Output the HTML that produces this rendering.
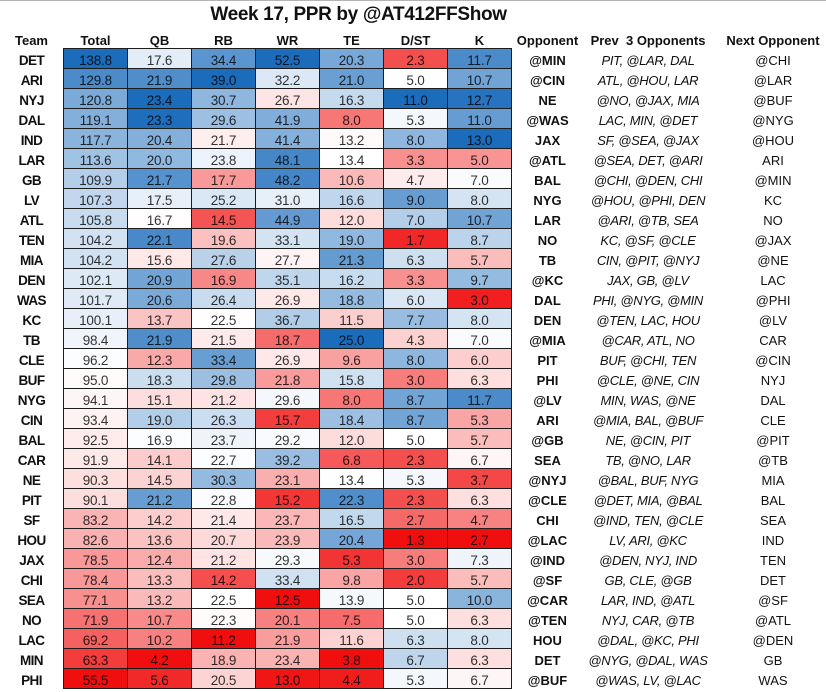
<!DOCTYPE html>
<html>
<head>
<meta charset="utf-8">
<style>
html,body{margin:0;padding:0}
body{width:826px;height:689px;background:#fff;position:relative;overflow:hidden;font-family:"Liberation Sans",Arial,sans-serif;color:#111}
.topline{position:absolute;left:0;top:0;width:826px;height:1px;background:#b4b4b4}
.title{position:absolute;top:3px;left:0;width:717px;text-align:center;font-weight:bold;font-size:19px;line-height:24px;letter-spacing:-0.35px;color:#111;white-space:nowrap}
.tline{position:absolute;left:63px;top:48px;width:449px;height:1px;background:#1c1c1c}
.row{position:absolute;left:0;height:20px;width:940px;display:flex}
.row>div{flex:none;height:20px;box-sizing:border-box;text-align:center;line-height:23px;white-space:nowrap;overflow:visible}
.tm{width:63px;font-weight:bold;font-size:13.5px;letter-spacing:-0.6px;color:#111}
.c{width:64px;border-right:1px solid #1c1c1c;border-bottom:1px solid #1c1c1c;font-size:13.5px;letter-spacing:-0.2px;color:rgba(0,0,0,.8);
background:color-mix(in srgb, rgb(28,108,188) calc(clamp(0, (var(--v) - var(--md)) / (var(--mx) - var(--md)), 1) * 100%), color-mix(in srgb, rgb(240,14,14) calc(clamp(0, (var(--md) - var(--v)) / (var(--md) - var(--mn)), 1) * 100%), #ffffff));}
.f{width:65px;border-left:1px solid #1c1c1c}
.op{width:71px;font-weight:bold;font-size:13px;color:#111}
.pv{width:130px;font-style:italic;font-size:13px;letter-spacing:-0.3px;color:#111}
.nx{width:120px;font-size:13px;color:#111}
.hdr .c{background:none;border-color:transparent;font-weight:bold;font-size:13px;color:#111;letter-spacing:0}
.hdr .tm{font-size:13px;letter-spacing:0}
.hdr .pv{font-style:normal;font-weight:bold;letter-spacing:0}
.hdr .nx{font-weight:bold}
.t{--mn:55.5;--md:95.6;--mx:138.8}
.q{--mn:4.2;--md:16.8;--mx:23.4}
.r{--mn:11.2;--md:22.5;--mx:39}
.w{--mn:12.5;--md:28.45;--mx:52.5}
.e{--mn:3.8;--md:13.4;--mx:25}
.d{--mn:1.3;--md:5;--mx:11}
.k{--mn:2.7;--md:6.85;--mx:13}
</style>
</head>
<body>
<div class="topline"></div>
<div class="title">Week 17, PPR by @AT412FFShow</div>

<div class="row hdr" style="top:29px"><div class="tm">Team</div><div class="c f">Total</div><div class="c">QB</div><div class="c">RB</div><div class="c">WR</div><div class="c">TE</div><div class="c">D/ST</div><div class="c">K</div><div class="op">Opponent</div><div class="pv">Prev&nbsp;&nbsp;3 Opponents</div><div class="nx">Next Opponent</div></div>

<div class="tline"></div>

<div class="row" style="top:49px"><div class="tm">DET</div><div class="c t f" style="--v:138.8">138.8</div><div class="c q" style="--v:17.6">17.6</div><div class="c r" style="--v:34.4">34.4</div><div class="c w" style="--v:52.5">52.5</div><div class="c e" style="--v:20.3">20.3</div><div class="c d" style="--v:2.3">2.3</div><div class="c k" style="--v:11.7">11.7</div><div class="op">@MIN</div><div class="pv">PIT, @LAR, DAL</div><div class="nx">@CHI</div></div>

<div class="row" style="top:69px"><div class="tm">ARI</div><div class="c t f" style="--v:129.8">129.8</div><div class="c q" style="--v:21.9">21.9</div><div class="c r" style="--v:39.0">39.0</div><div class="c w" style="--v:32.2">32.2</div><div class="c e" style="--v:21.0">21.0</div><div class="c d" style="--v:5.0">5.0</div><div class="c k" style="--v:10.7">10.7</div><div class="op">@CIN</div><div class="pv">ATL, @HOU, LAR</div><div class="nx">@LAR</div></div>

<div class="row" style="top:89px"><div class="tm">NYJ</div><div class="c t f" style="--v:120.8">120.8</div><div class="c q" style="--v:23.4">23.4</div><div class="c r" style="--v:30.7">30.7</div><div class="c w" style="--v:26.7">26.7</div><div class="c e" style="--v:16.3">16.3</div><div class="c d" style="--v:11.0">11.0</div><div class="c k" style="--v:12.7">12.7</div><div class="op">NE</div><div class="pv">@NO, @JAX, MIA</div><div class="nx">@BUF</div></div>

<div class="row" style="top:109px"><div class="tm">DAL</div><div class="c t f" style="--v:119.1">119.1</div><div class="c q" style="--v:23.3">23.3</div><div class="c r" style="--v:29.6">29.6</div><div class="c w" style="--v:41.9">41.9</div><div class="c e" style="--v:8.0">8.0</div><div class="c d" style="--v:5.3">5.3</div><div class="c k" style="--v:11.0">11.0</div><div class="op">@WAS</div><div class="pv">LAC, MIN, @DET</div><div class="nx">@NYG</div></div>

<div class="row" style="top:129px"><div class="tm">IND</div><div class="c t f" style="--v:117.7">117.7</div><div class="c q" style="--v:20.4">20.4</div><div class="c r" style="--v:21.7">21.7</div><div class="c w" style="--v:41.4">41.4</div><div class="c e" style="--v:13.2">13.2</div><div class="c d" style="--v:8.0">8.0</div><div class="c k" style="--v:13.0">13.0</div><div class="op">JAX</div><div class="pv">SF, @SEA, @JAX</div><div class="nx">@HOU</div></div>

<div class="row" style="top:149px"><div class="tm">LAR</div><div class="c t f" style="--v:113.6">113.6</div><div class="c q" style="--v:20.0">20.0</div><div class="c r" style="--v:23.8">23.8</div><div class="c w" style="--v:48.1">48.1</div><div class="c e" style="--v:13.4">13.4</div><div class="c d" style="--v:3.3">3.3</div><div class="c k" style="--v:5.0">5.0</div><div class="op">@ATL</div><div class="pv">@SEA, DET, @ARI</div><div class="nx">ARI</div></div>

<div class="row" style="top:169px"><div class="tm">GB</div><div class="c t f" style="--v:109.9">109.9</div><div class="c q" style="--v:21.7">21.7</div><div class="c r" style="--v:17.7">17.7</div><div class="c w" style="--v:48.2">48.2</div><div class="c e" style="--v:10.6">10.6</div><div class="c d" style="--v:4.7">4.7</div><div class="c k" style="--v:7.0">7.0</div><div class="op">BAL</div><div class="pv">@CHI, @DEN, CHI</div><div class="nx">@MIN</div></div>

<div class="row" style="top:189px"><div class="tm">LV</div><div class="c t f" style="--v:107.3">107.3</div><div class="c q" style="--v:17.5">17.5</div><div class="c r" style="--v:25.2">25.2</div><div class="c w" style="--v:31.0">31.0</div><div class="c e" style="--v:16.6">16.6</div><div class="c d" style="--v:9.0">9.0</div><div class="c k" style="--v:8.0">8.0</div><div class="op">NYG</div><div class="pv">@HOU, @PHI, DEN</div><div class="nx">KC</div></div>

<div class="row" style="top:209px"><div class="tm">ATL</div><div class="c t f" style="--v:105.8">105.8</div><div class="c q" style="--v:16.7">16.7</div><div class="c r" style="--v:14.5">14.5</div><div class="c w" style="--v:44.9">44.9</div><div class="c e" style="--v:12.0">12.0</div><div class="c d" style="--v:7.0">7.0</div><div class="c k" style="--v:10.7">10.7</div><div class="op">LAR</div><div class="pv">@ARI, @TB, SEA</div><div class="nx">NO</div></div>

<div class="row" style="top:229px"><div class="tm">TEN</div><div class="c t f" style="--v:104.2">104.2</div><div class="c q" style="--v:22.1">22.1</div><div class="c r" style="--v:19.6">19.6</div><div class="c w" style="--v:33.1">33.1</div><div class="c e" style="--v:19.0">19.0</div><div class="c d" style="--v:1.7">1.7</div><div class="c k" style="--v:8.7">8.7</div><div class="op">NO</div><div class="pv">KC, @SF, @CLE</div><div class="nx">@JAX</div></div>

<div class="row" style="top:249px"><div class="tm">MIA</div><div class="c t f" style="--v:104.2">104.2</div><div class="c q" style="--v:15.6">15.6</div><div class="c r" style="--v:27.6">27.6</div><div class="c w" style="--v:27.7">27.7</div><div class="c e" style="--v:21.3">21.3</div><div class="c d" style="--v:6.3">6.3</div><div class="c k" style="--v:5.7">5.7</div><div class="op">TB</div><div class="pv">CIN, @PIT, @NYJ</div><div class="nx">@NE</div></div>

<div class="row" style="top:269px"><div class="tm">DEN</div><div class="c t f" style="--v:102.1">102.1</div><div class="c q" style="--v:20.9">20.9</div><div class="c r" style="--v:16.9">16.9</div><div class="c w" style="--v:35.1">35.1</div><div class="c e" style="--v:16.2">16.2</div><div class="c d" style="--v:3.3">3.3</div><div class="c k" style="--v:9.7">9.7</div><div class="op">@KC</div><div class="pv">JAX, GB, @LV</div><div class="nx">LAC</div></div>

<div class="row" style="top:289px"><div class="tm">WAS</div><div class="c t f" style="--v:101.7">101.7</div><div class="c q" style="--v:20.6">20.6</div><div class="c r" style="--v:26.4">26.4</div><div class="c w" style="--v:26.9">26.9</div><div class="c e" style="--v:18.8">18.8</div><div class="c d" style="--v:6.0">6.0</div><div class="c k" style="--v:3.0">3.0</div><div class="op">DAL</div><div class="pv">PHI, @NYG, @MIN</div><div class="nx">@PHI</div></div>

<div class="row" style="top:309px"><div class="tm">KC</div><div class="c t f" style="--v:100.1">100.1</div><div class="c q" style="--v:13.7">13.7</div><div class="c r" style="--v:22.5">22.5</div><div class="c w" style="--v:36.7">36.7</div><div class="c e" style="--v:11.5">11.5</div><div class="c d" style="--v:7.7">7.7</div><div class="c k" style="--v:8.0">8.0</div><div class="op">DEN</div><div class="pv">@TEN, LAC, HOU</div><div class="nx">@LV</div></div>

<div class="row" style="top:329px"><div class="tm">TB</div><div class="c t f" style="--v:98.4">98.4</div><div class="c q" style="--v:21.9">21.9</div><div class="c r" style="--v:21.5">21.5</div><div class="c w" style="--v:18.7">18.7</div><div class="c e" style="--v:25.0">25.0</div><div class="c d" style="--v:4.3">4.3</div><div class="c k" style="--v:7.0">7.0</div><div class="op">@MIA</div><div class="pv">@CAR, ATL, NO</div><div class="nx">CAR</div></div>

<div class="row" style="top:349px"><div class="tm">CLE</div><div class="c t f" style="--v:96.2">96.2</div><div class="c q" style="--v:12.3">12.3</div><div class="c r" style="--v:33.4">33.4</div><div class="c w" style="--v:26.9">26.9</div><div class="c e" style="--v:9.6">9.6</div><div class="c d" style="--v:8.0">8.0</div><div class="c k" style="--v:6.0">6.0</div><div class="op">PIT</div><div class="pv">BUF, @CHI, TEN</div><div class="nx">@CIN</div></div>

<div class="row" style="top:369px"><div class="tm">BUF</div><div class="c t f" style="--v:95.0">95.0</div><div class="c q" style="--v:18.3">18.3</div><div class="c r" style="--v:29.8">29.8</div><div class="c w" style="--v:21.8">21.8</div><div class="c e" style="--v:15.8">15.8</div><div class="c d" style="--v:3.0">3.0</div><div class="c k" style="--v:6.3">6.3</div><div class="op">PHI</div><div class="pv">@CLE, @NE, CIN</div><div class="nx">NYJ</div></div>

<div class="row" style="top:389px"><div class="tm">NYG</div><div class="c t f" style="--v:94.1">94.1</div><div class="c q" style="--v:15.1">15.1</div><div class="c r" style="--v:21.2">21.2</div><div class="c w" style="--v:29.6">29.6</div><div class="c e" style="--v:8.0">8.0</div><div class="c d" style="--v:8.7">8.7</div><div class="c k" style="--v:11.7">11.7</div><div class="op">@LV</div><div class="pv">MIN, WAS, @NE</div><div class="nx">DAL</div></div>

<div class="row" style="top:409px"><div class="tm">CIN</div><div class="c t f" style="--v:93.4">93.4</div><div class="c q" style="--v:19.0">19.0</div><div class="c r" style="--v:26.3">26.3</div><div class="c w" style="--v:15.7">15.7</div><div class="c e" style="--v:18.4">18.4</div><div class="c d" style="--v:8.7">8.7</div><div class="c k" style="--v:5.3">5.3</div><div class="op">ARI</div><div class="pv">@MIA, BAL, @BUF</div><div class="nx">CLE</div></div>

<div class="row" style="top:429px"><div class="tm">BAL</div><div class="c t f" style="--v:92.5">92.5</div><div class="c q" style="--v:16.9">16.9</div><div class="c r" style="--v:23.7">23.7</div><div class="c w" style="--v:29.2">29.2</div><div class="c e" style="--v:12.0">12.0</div><div class="c d" style="--v:5.0">5.0</div><div class="c k" style="--v:5.7">5.7</div><div class="op">@GB</div><div class="pv">NE, @CIN, PIT</div><div class="nx">@PIT</div></div>

<div class="row" style="top:449px"><div class="tm">CAR</div><div class="c t f" style="--v:91.9">91.9</div><div class="c q" style="--v:14.1">14.1</div><div class="c r" style="--v:22.7">22.7</div><div class="c w" style="--v:39.2">39.2</div><div class="c e" style="--v:6.8">6.8</div><div class="c d" style="--v:2.3">2.3</div><div class="c k" style="--v:6.7">6.7</div><div class="op">SEA</div><div class="pv">TB, @NO, LAR</div><div class="nx">@TB</div></div>

<div class="row" style="top:469px"><div class="tm">NE</div><div class="c t f" style="--v:90.3">90.3</div><div class="c q" style="--v:14.5">14.5</div><div class="c r" style="--v:30.3">30.3</div><div class="c w" style="--v:23.1">23.1</div><div class="c e" style="--v:13.4">13.4</div><div class="c d" style="--v:5.3">5.3</div><div class="c k" style="--v:3.7">3.7</div><div class="op">@NYJ</div><div class="pv">@BAL, BUF, NYG</div><div class="nx">MIA</div></div>

<div class="row" style="top:489px"><div class="tm">PIT</div><div class="c t f" style="--v:90.1">90.1</div><div class="c q" style="--v:21.2">21.2</div><div class="c r" style="--v:22.8">22.8</div><div class="c w" style="--v:15.2">15.2</div><div class="c e" style="--v:22.3">22.3</div><div class="c d" style="--v:2.3">2.3</div><div class="c k" style="--v:6.3">6.3</div><div class="op">@CLE</div><div class="pv">@DET, MIA, @BAL</div><div class="nx">BAL</div></div>

<div class="row" style="top:509px"><div class="tm">SF</div><div class="c t f" style="--v:83.2">83.2</div><div class="c q" style="--v:14.2">14.2</div><div class="c r" style="--v:21.4">21.4</div><div class="c w" style="--v:23.7">23.7</div><div class="c e" style="--v:16.5">16.5</div><div class="c d" style="--v:2.7">2.7</div><div class="c k" style="--v:4.7">4.7</div><div class="op">CHI</div><div class="pv">@IND, TEN, @CLE</div><div class="nx">SEA</div></div>

<div class="row" style="top:529px"><div class="tm">HOU</div><div class="c t f" style="--v:82.6">82.6</div><div class="c q" style="--v:13.6">13.6</div><div class="c r" style="--v:20.7">20.7</div><div class="c w" style="--v:23.9">23.9</div><div class="c e" style="--v:20.4">20.4</div><div class="c d" style="--v:1.3">1.3</div><div class="c k" style="--v:2.7">2.7</div><div class="op">@LAC</div><div class="pv">LV, ARI, @KC</div><div class="nx">IND</div></div>

<div class="row" style="top:549px"><div class="tm">JAX</div><div class="c t f" style="--v:78.5">78.5</div><div class="c q" style="--v:12.4">12.4</div><div class="c r" style="--v:21.2">21.2</div><div class="c w" style="--v:29.3">29.3</div><div class="c e" style="--v:5.3">5.3</div><div class="c d" style="--v:3.0">3.0</div><div class="c k" style="--v:7.3">7.3</div><div class="op">@IND</div><div class="pv">@DEN, NYJ, IND</div><div class="nx">TEN</div></div>

<div class="row" style="top:569px"><div class="tm">CHI</div><div class="c t f" style="--v:78.4">78.4</div><div class="c q" style="--v:13.3">13.3</div><div class="c r" style="--v:14.2">14.2</div><div class="c w" style="--v:33.4">33.4</div><div class="c e" style="--v:9.8">9.8</div><div class="c d" style="--v:2.0">2.0</div><div class="c k" style="--v:5.7">5.7</div><div class="op">@SF</div><div class="pv">GB, CLE, @GB</div><div class="nx">DET</div></div>

<div class="row" style="top:589px"><div class="tm">SEA</div><div class="c t f" style="--v:77.1">77.1</div><div class="c q" style="--v:13.2">13.2</div><div class="c r" style="--v:22.5">22.5</div><div class="c w" style="--v:12.5">12.5</div><div class="c e" style="--v:13.9">13.9</div><div class="c d" style="--v:5.0">5.0</div><div class="c k" style="--v:10.0">10.0</div><div class="op">@CAR</div><div class="pv">LAR, IND, @ATL</div><div class="nx">@SF</div></div>

<div class="row" style="top:609px"><div class="tm">NO</div><div class="c t f" style="--v:71.9">71.9</div><div class="c q" style="--v:10.7">10.7</div><div class="c r" style="--v:22.3">22.3</div><div class="c w" style="--v:20.1">20.1</div><div class="c e" style="--v:7.5">7.5</div><div class="c d" style="--v:5.0">5.0</div><div class="c k" style="--v:6.3">6.3</div><div class="op">@TEN</div><div class="pv">NYJ, CAR, @TB</div><div class="nx">@ATL</div></div>

<div class="row" style="top:629px"><div class="tm">LAC</div><div class="c t f" style="--v:69.2">69.2</div><div class="c q" style="--v:10.2">10.2</div><div class="c r" style="--v:11.2">11.2</div><div class="c w" style="--v:21.9">21.9</div><div class="c e" style="--v:11.6">11.6</div><div class="c d" style="--v:6.3">6.3</div><div class="c k" style="--v:8.0">8.0</div><div class="op">HOU</div><div class="pv">@DAL, @KC, PHI</div><div class="nx">@DEN</div></div>

<div class="row" style="top:649px"><div class="tm">MIN</div><div class="c t f" style="--v:63.3">63.3</div><div class="c q" style="--v:4.2">4.2</div><div class="c r" style="--v:18.9">18.9</div><div class="c w" style="--v:23.4">23.4</div><div class="c e" style="--v:3.8">3.8</div><div class="c d" style="--v:6.7">6.7</div><div class="c k" style="--v:6.3">6.3</div><div class="op">DET</div><div class="pv">@NYG, @DAL, WAS</div><div class="nx">GB</div></div>

<div class="row" style="top:669px"><div class="tm">PHI</div><div class="c t f" style="--v:55.5">55.5</div><div class="c q" style="--v:5.6">5.6</div><div class="c r" style="--v:20.5">20.5</div><div class="c w" style="--v:13.0">13.0</div><div class="c e" style="--v:4.4">4.4</div><div class="c d" style="--v:5.3">5.3</div><div class="c k" style="--v:6.7">6.7</div><div class="op">@BUF</div><div class="pv">@WAS, LV, @LAC</div><div class="nx">WAS</div></div>

</body>
</html>
